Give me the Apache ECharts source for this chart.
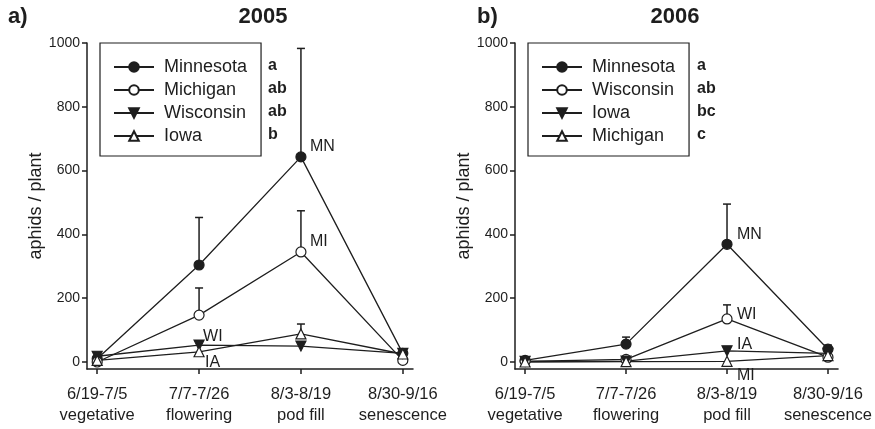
<!DOCTYPE html>
<html><head><meta charset="utf-8">
<script src="https://cdn.jsdelivr.net/npm/echarts@6/dist/echarts.min.js"></script>
<style>html,body{margin:0;padding:0;background:#fff}#c{width:875px;height:429px}</style>
</head><body><div id="c"></div>
<script>
// ---------- data ----------
const periods = ['6/19-7/5', '7/7-7/26', '8/3-8/19', '8/30-9/16'];
const stages = ['vegetative', 'flowering', 'pod fill', 'senescence'];
const yTicks = [0, 200, 400, 600, 800, 1000];
const xTicks = [0, 1, 2, 3];

// 2005 (panel a)
const years = ['2005', '2006'];
const panelTags = ['a)', 'b)'];
const states2005 = ['Minnesota', 'Michigan', 'Wisconsin', 'Iowa'];
const groups2005 = ['a', 'ab', 'ab', 'b'];
const abbr2005 = ['MN', 'MI', 'WI', 'IA'];
const labelAt2005 = [2, 2, 1, 1];
const mn2005 = [10, 304, 643, 27];
const mn2005Err = [null, 453, 983, 33];
const mi2005 = [0, 147, 345, 5];
const mi2005Err = [null, 232, 474, null];
const wi2005 = [18, 53, 50, 27];
const wi2005Err = [30, 65, null, null];
const ia2005 = [5, 32, 88, 25];
const ia2005Err = [null, null, 119, null];

// 2006 (panel b)
const states2006 = ['Minnesota', 'Wisconsin', 'Iowa', 'Michigan'];
const groups2006 = ['a', 'ab', 'bc', 'c'];
const abbr2006 = ['MN', 'WI', 'IA', 'MI'];
const labelAt2006 = [2, 2, 2, 2];
const mn2006 = [5, 56, 369, 40];
const mn2006Err = [null, 78, 495, 53];
const wi2006 = [2, 8, 135, 15];
const wi2006Err = [null, null, 179, null];
const ia2006 = [2, 3, 35, 27];
const ia2006Err = [null, null, 48, null];
const mi2006 = [0, 1, 2, 20];
const mi2006Err = [null, null, null, null];

// ---------- styling / layout ----------
const FONT = "'Liberation Sans', Arial, Helvetica, sans-serif";
const INK = '#1e1e1e';
const grids = [
  {left: 87, top: 43, width: 326, height: 326},
  {left: 515, top: 43, width: 325, height: 326}
];
const symbolStyles = [
  {symbol: 'circle', rotate: 0, fill: INK},
  {symbol: 'circle', rotate: 0, fill: '#ffffff'},
  {symbol: 'triangle', rotate: 180, fill: INK},
  {symbol: 'triangle', rotate: 0, fill: '#ffffff'}
];
const labelOffsets = [
  [[9, -10], [9, -10], [4, -8], [6, 11]],
  [[10, -10], [10, -4], [10, -6], [10, 14]]
];

const panels = [
  {states: states2005, groups: groups2005, abbr: abbr2005, labelAt: labelAt2005,
   vals: [mn2005, mi2005, wi2005, ia2005], errs: [mn2005Err, mi2005Err, wi2005Err, ia2005Err]},
  {states: states2006, groups: groups2006, abbr: abbr2006, labelAt: labelAt2006,
   vals: [mn2006, wi2006, ia2006, mi2006], errs: [mn2006Err, wi2006Err, ia2006Err, mi2006Err]}
];

const series = [];
const legends = [];
const graphics = [];

panels.forEach((p, gi) => {
  p.states.forEach((st, si) => {
    const sym = symbolStyles[si];
    const ed = [];
    p.vals[si].forEach((v, i) => { if (p.errs[si][i] != null) ed.push([i, v, p.errs[si][i]]); });
    series.push({
      type: 'custom', xAxisIndex: gi, yAxisIndex: gi, data: ed, z: 2, silent: true,
      encode: {x: 0, y: [1, 2]},
      renderItem: function (params, api) {
        const x = api.value(0);
        const p0 = api.coord([x, api.value(1)]);
        const p1 = api.coord([x, api.value(2)]);
        return {type: 'group', children: [
          {type: 'line', shape: {x1: p0[0], y1: p0[1], x2: p1[0], y2: p1[1]}, style: {stroke: INK, lineWidth: 1.5}},
          {type: 'line', shape: {x1: p1[0] - 4, y1: p1[1], x2: p1[0] + 4, y2: p1[1]}, style: {stroke: INK, lineWidth: 1.5}}
        ]};
      }
    });
    series.push({
      type: 'line', name: st + '|' + years[gi], xAxisIndex: gi, yAxisIndex: gi,
      data: p.vals[si].map((v, i) => [i, v]),
      symbol: sym.symbol, symbolRotate: sym.rotate, symbolSize: 10, showAllSymbol: true,
      itemStyle: {color: sym.fill, borderColor: INK, borderWidth: 1.2},
      lineStyle: {color: INK, width: 1.3},
      z: 3
    });
  });
  // point labels
  series.push({
    type: 'scatter', xAxisIndex: gi, yAxisIndex: gi, silent: true, z: 4,
    symbolSize: 0, itemStyle: {color: INK, opacity: 1},
    data: p.abbr.map((a, si) => ({
      value: [p.labelAt[si], p.vals[si][p.labelAt[si]]],
      label: {show: true, formatter: a, position: 'right', distance: 0, opacity: 1,
              offset: labelOffsets[gi][si], fontSize: 16, color: INK, fontFamily: FONT}
    }))
  });
  legends.push({
    left: gi === 0 ? 100 : 528, top: 43,
    orient: 'vertical', selectedMode: false,
    data: p.states.map(s => s + '|' + years[gi]),
    formatter: n => n.split('|')[0],
    padding: [15, 14, 11, 13], itemWidth: 40, itemHeight: 12, itemGap: 5,
    borderColor: INK, borderWidth: 1.2,
    textStyle: {fontSize: 18, color: INK, fontFamily: FONT, padding: [0, 0, 0, 5]}
  });
  graphics.push({type: 'text', x: gi === 0 ? 263 : 675, y: 17,
    style: {text: years[gi], font: 'bold 22px ' + FONT, fill: INK, textAlign: 'center', textVerticalAlign: 'middle'}});
  graphics.push({type: 'text', x: gi === 0 ? 8 : 477, y: 17,
    style: {text: panelTags[gi], font: 'bold 22px ' + FONT, fill: INK, textAlign: 'left', textVerticalAlign: 'middle'}});
  p.groups.forEach((g, si) => {
    graphics.push({type: 'text', x: gi === 0 ? 268 : 697, y: 66 + 23 * si,
      style: {text: g, font: 'bold 16px ' + FONT, fill: INK, textAlign: 'left', textVerticalAlign: 'middle'}});
  });
});

const axisLineStyle = {color: INK, width: 1.5};
const option = {
  animation: false,
  backgroundColor: '#fff',
  textStyle: {fontFamily: FONT},
  grid: grids,
  xAxis: grids.map((g, gi) => ({
    type: 'value', gridIndex: gi, min: -0.1, max: 3.1,
    axisLine: {show: true, onZero: false, lineStyle: axisLineStyle},
    axisTick: {show: true, customValues: xTicks, length: 5, lineStyle: axisLineStyle},
    axisLabel: {customValues: xTicks, formatter: v => periods[Math.round(v)] + '\n' + stages[Math.round(v)],
                fontSize: 16.5, lineHeight: 21, margin: 15, color: INK, fontFamily: FONT},
    splitLine: {show: false}
  })),
  yAxis: grids.map((g, gi) => ({
    type: 'value', gridIndex: gi, min: -22, max: 1000,
    name: 'aphids / plant', nameLocation: 'middle', nameGap: 30,
    nameTextStyle: {fontSize: 18, color: INK, fontFamily: FONT},
    axisLine: {show: true, onZero: false, lineStyle: axisLineStyle},
    axisTick: {show: true, customValues: yTicks, length: 5, lineStyle: axisLineStyle},
    axisLabel: {customValues: yTicks, formatter: v => String(v), fontSize: 14, margin: 7, color: INK, fontFamily: FONT},
    splitLine: {show: false}
  })),
  legend: legends,
  graphic: graphics,
  series: series
};
const chart = echarts.init(document.getElementById('c'), null, {renderer: 'canvas'});
chart.setOption(option);
</script>
</body></html>
